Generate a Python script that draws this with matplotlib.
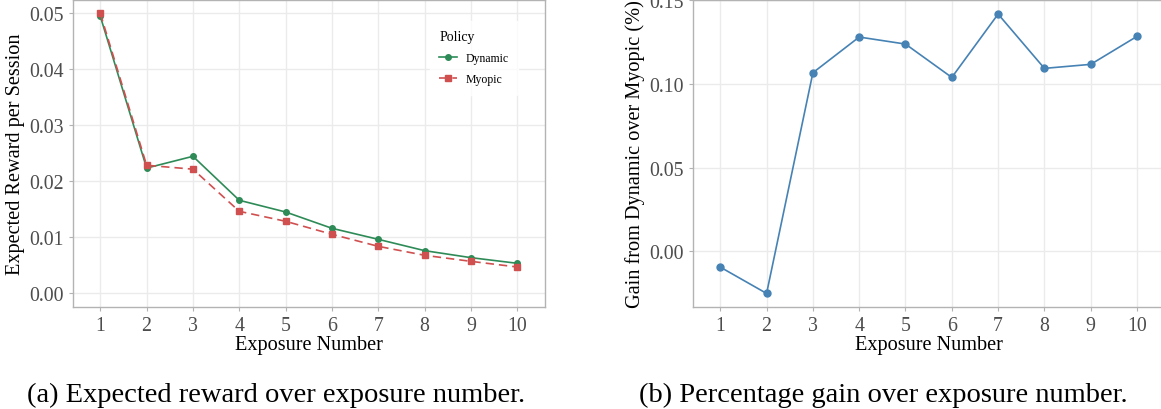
import numpy as np
import matplotlib
matplotlib.use("Agg")
import matplotlib.pyplot as plt

plt.rcParams['font.family'] = ['Liberation Serif', 'DejaVu Serif']

exposure = [1, 2, 3, 4, 5, 6, 7, 8, 9, 10]
dynamic = [0.0494, 0.0223, 0.0244, 0.01655, 0.01446, 0.01155, 0.00958, 0.00756, 0.00631, 0.0053]
myopic = [0.0499, 0.0228, 0.0221, 0.01458, 0.0128, 0.01048, 0.00833, 0.00673, 0.00565, 0.00464]
gain = [-0.0094, -0.0251, 0.1066, 0.1279, 0.1237, 0.1038, 0.1416, 0.1092, 0.1116, 0.1283]

W, H = 1161, 410
fig = plt.figure(figsize=(W / 100, H / 100), dpi=100)

def px_axes(x0, x1, y0, y1):
    return fig.add_axes([x0 / W, 1 - y1 / H, (x1 - x0) / W, (y1 - y0) / H])

def style(ax):
    ax.set_facecolor('white')
    for s in ax.spines.values():
        s.set_color('#B3B3B3')
        s.set_linewidth(1.0)
    ax.grid(True, color='#EBEBEB', linewidth=1.0)
    ax.set_axisbelow(True)
    ax.tick_params(colors='#B3B3B3', labelcolor='#4D4D4D', labelsize=14.3, length=3, width=0.8)
    ax.set_xticks(exposure)
    ax.set_xlim(0.4, 10.6)

# (a) expected reward
ax1 = px_axes(72.5, 545, 1, 308)
style(ax1)
ax1.plot(exposure, dynamic, color='#2E8B57', marker='o', markersize=4, linewidth=1.2, label='Dynamic')
ax1.plot(exposure, myopic, color='#D05050', marker='s', markersize=5, linewidth=1.2,
         linestyle=(0, (5, 3)), label='Myopic')
ax1.set_ylim(-0.0025, 0.0523)
ax1.set_yticks([0.0, 0.01, 0.02, 0.03, 0.04, 0.05])
ax1.set_yticklabels(['0.00', '0.01', '0.02', '0.03', '0.04', '0.05'])
ax1.set_xlabel('Exposure Number', fontsize=14.6, labelpad=0)
ax1.set_ylabel('Expected Reward per Session', fontsize=14.6, labelpad=3)
leg = ax1.legend(title='Policy', loc='upper left', bbox_to_anchor=(424 / W, 1 - 16 / H),
                 bbox_transform=fig.transFigure, frameon=True, fontsize=8.5, title_fontsize=10,
                 handlelength=1.5, handletextpad=0.7, borderpad=0.8, labelspacing=0.75)
leg.get_frame().set_facecolor('white')
leg.get_frame().set_edgecolor('white')
leg._legend_box.align = 'left'

# (b) percentage gain
ax2 = px_axes(692.5, 1164.8, 0.5, 308)
style(ax2)
ax2.plot(exposure, gain, color='#4682B4', marker='o', markersize=5, linewidth=1.2)
ax2.set_ylim(-0.0332, 0.1503)
ax2.set_yticks([0.0, 0.05, 0.10, 0.15])
ax2.set_yticklabels(['0.00', '0.05', '0.10', '0.15'])
ax2.set_xlabel('Exposure Number', fontsize=14.6, labelpad=0)
ax2.set_ylabel('Gain from Dynamic over Myopic (%)', fontsize=14.6, labelpad=3)

fig.text(276 / W, 1 - 402 / H, '(a) Expected reward over exposure number.', fontsize=20.5,
         ha='center', va='baseline')
fig.text(883 / W, 1 - 402 / H, '(b) Percentage gain over exposure number.', fontsize=20.5,
         ha='center', va='baseline')

fig.savefig('out.png', dpi=100)
